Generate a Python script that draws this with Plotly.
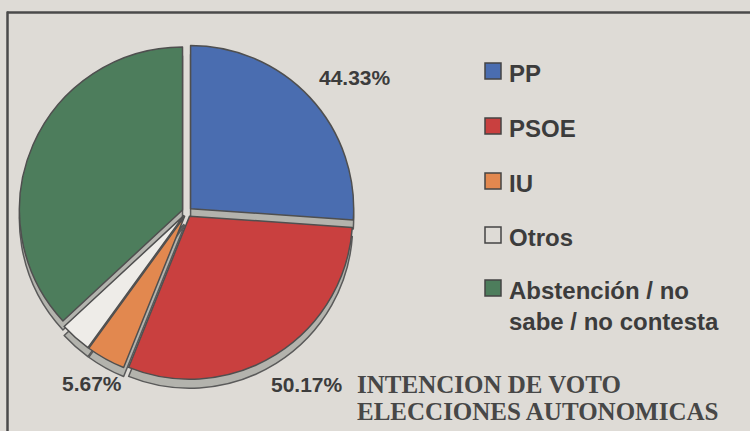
import plotly.graph_objects as go

# ---- data ----
labels = ["PP", "PSOE", "IU", "Otros", "Abstención / no<br>sabe / no contesta"]
slice_values = [26.1, 30.0, 3.9, 3.1, 36.9]
pct_labels = ["44.33%", "50.17%", "5.67%"]
colors = ["#4a6db0", "#c9403f", "#e2884f", "#eeece8", "#4d7d5c"]
title_lines = ["INTENCION DE VOTO", "ELECCIONES AUTONOMICAS"]

W, H = 750, 431
BG = "#dedbd6"
TXT = "#3c3c3c"


def px(x):
    return x / W


def py(y):
    return 1 - y / H


cx, cy, R = 187, 212, 168
shadow = 9

fig = go.Figure()

# shadow / extrusion pie
fig.add_trace(go.Pie(
    values=slice_values, labels=labels, sort=False, direction="clockwise", rotation=0,
    pull=[0.03] * len(slice_values), textinfo="none", hoverinfo="skip",
    marker=dict(colors=["#b3b3ad"] * len(slice_values), line=dict(color="#5a5a5a", width=1.5)),
    domain=dict(x=[px(cx - R), px(cx + R)], y=[py(cy + shadow + R), py(cy + shadow - R)]),
    showlegend=False,
))

# main pie
fig.add_trace(go.Pie(
    values=slice_values, labels=labels, sort=False, direction="clockwise", rotation=0,
    pull=[0.03] * len(slice_values), textinfo="none",
    marker=dict(colors=colors, line=dict(color="#4f4f4f", width=1.5)),
    domain=dict(x=[px(cx - R), px(cx + R)], y=[py(cy + R), py(cy - R)]),
    showlegend=False,
))

annotations = []
shapes = []

# percentage labels
pct_pos = [(355, 77), (307, 384), (92, 383)]
for t, (x, y) in zip(pct_labels, pct_pos):
    annotations.append(dict(
        x=px(x), y=py(y), xref="paper", yref="paper", text="<b>" + t + "</b>", showarrow=False,
        font=dict(family="Liberation Sans, Arial", size=21, color=TXT),
        xanchor="center", yanchor="middle",
    ))

# legend
leg_y = [71, 126, 181, 235, 288]
for lab, col, y in zip(labels, colors, leg_y):
    shapes.append(dict(
        type="rect", xref="paper", yref="paper",
        x0=px(485), x1=px(501), y0=py(y + 8), y1=py(y - 8),
        fillcolor=col if col != "#eeece8" else "rgba(0,0,0,0)",
        line=dict(color="#444", width=1.5),
    ))
    annotations.append(dict(
        x=px(507), y=py(y - 13), xref="paper", yref="paper", text="<b>" + lab + "</b>",
        showarrow=False, align="left", xanchor="left", yanchor="top",
        font=dict(family="Liberation Sans, Arial", size=24, color=TXT),
    ))

# title (two lines, tight newspaper leading)
for line, y in zip(title_lines, [384, 411]):
    annotations.append(dict(
        x=px(355), y=py(y), xref="paper", yref="paper",
        text="<b>" + line + "</b>",
        showarrow=False, align="left", xanchor="left", yanchor="middle",
        font=dict(family="Liberation Serif, Times New Roman", size=25, color="#474747"),
    ))

# frame
shapes.append(dict(type="line", xref="paper", yref="paper", x0=px(7), x1=1.01,
                   y0=py(12.5), y1=py(12.5), line=dict(color="#4a4a4a", width=2.5)))
shapes.append(dict(type="line", xref="paper", yref="paper", x0=px(7.5), x1=px(7.5),
                   y0=py(11.5), y1=-0.01, line=dict(color="#4a4a4a", width=2.5)))

fig.update_layout(
    width=W, height=H, margin=dict(l=0, r=0, t=0, b=0),
    paper_bgcolor=BG, plot_bgcolor=BG,
    annotations=annotations, shapes=shapes, showlegend=False,
)

fig.write_html(
    "out.html",
    config={"displayModeBar": False},
    post_script="document.body.style.margin='0';document.body.style.overflow='hidden';",
)
